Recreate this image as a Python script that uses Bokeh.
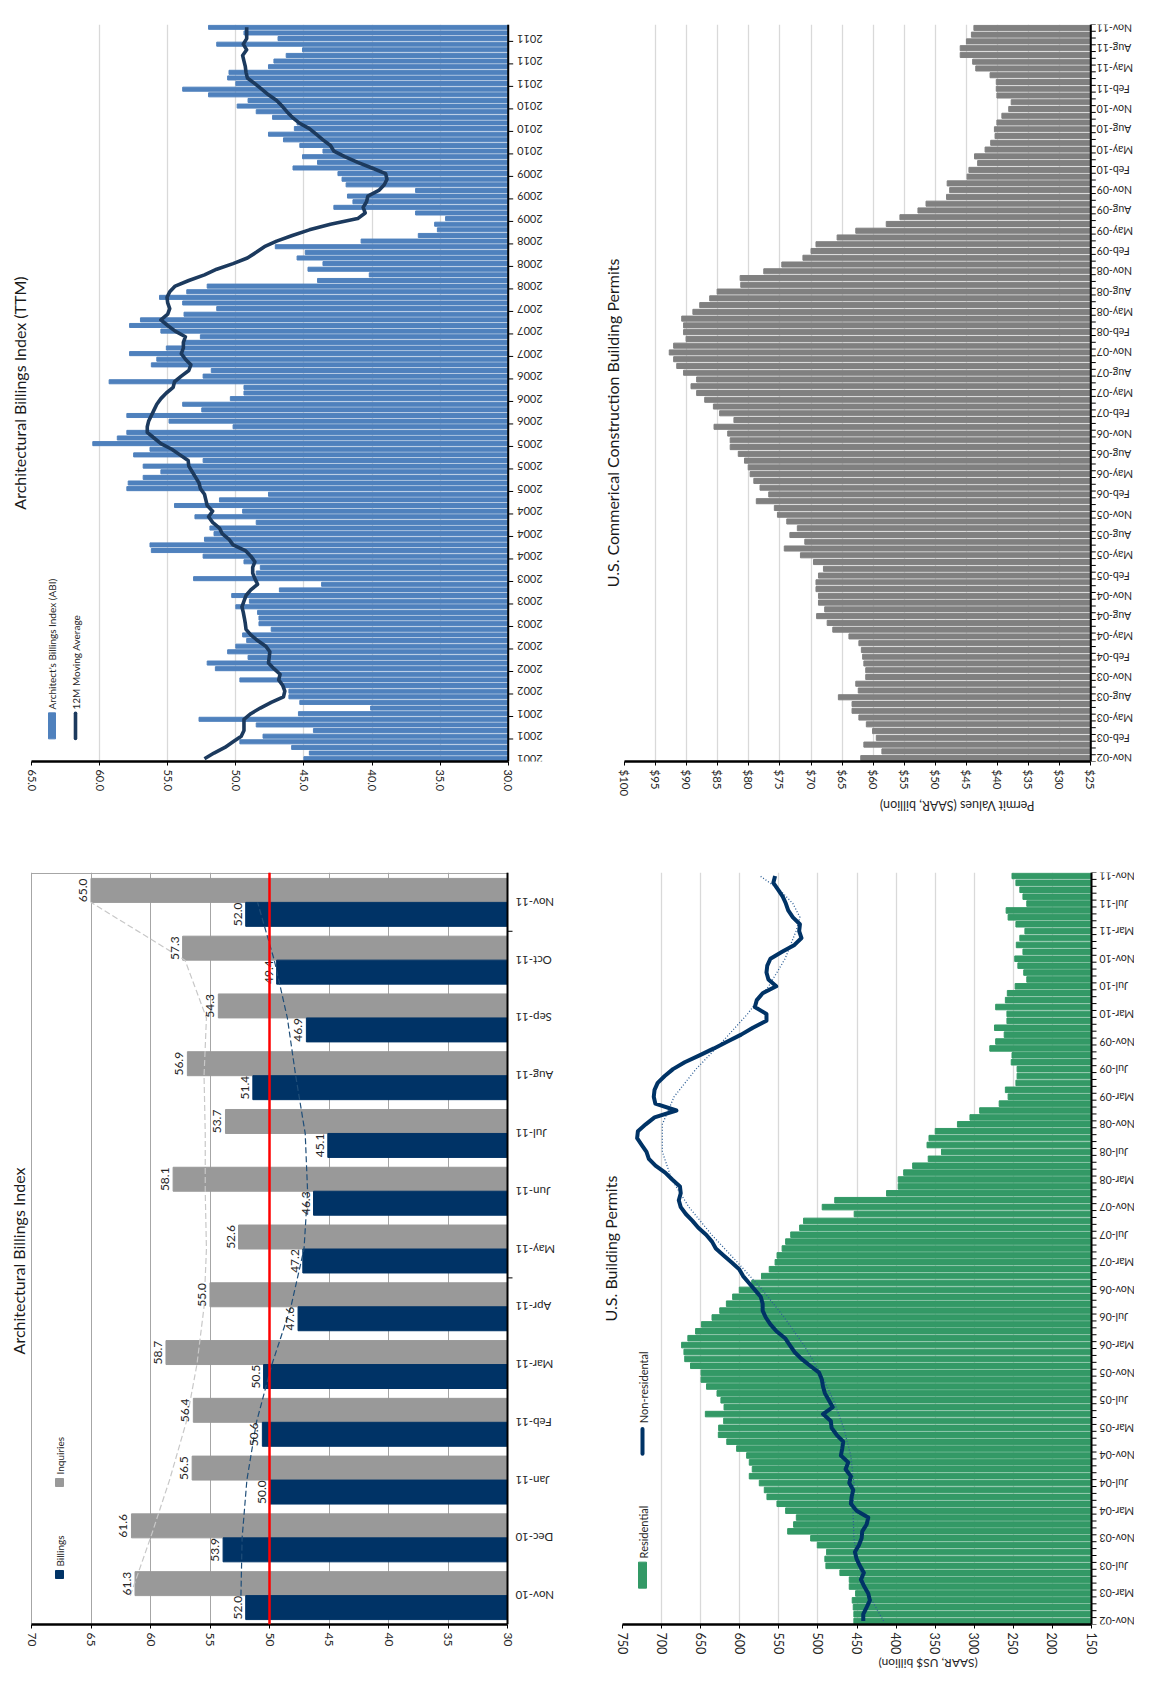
import math
from bokeh.plotting import figure
from bokeh.models import Range1d, FixedTicker, NumeralTickFormatter, Span
from bokeh.layouts import column, row
from bokeh.core.properties import value
from bokeh.embed import file_html
from bokeh.resources import INLINE

FONT = "Lato"

# ---------------- data ----------------
ttm_abi = [45.0, 44.6, 45.9, 49.7, 48.0, 44.3, 48.5, 52.7, 45.4, 40.1, 45.3, 46.1, 46.1, 46.55, 49.7, 46.8,
           51.5, 52.1, 49.1, 50.6, 50.0, 49.2, 49.5, 47.4, 48.3, 48.3, 48.4, 50.0, 49.0, 50.3, 46.8, 43.7,
           53.1, 48.5, 48.2, 49.4, 52.4, 56.2, 56.3, 52.3, 51.6, 51.9, 48.5, 53.0, 49.5, 54.5, 51.2, 47.6,
           58.0, 57.9, 56.8, 55.5, 56.8, 52.4, 57.5, 56.3, 60.5, 58.7, 58.0, 50.2, 54.9, 58.0, 52.5, 53.9,
           50.4, 49.4, 49.4, 59.3, 52.4, 51.8, 56.2, 55.8, 57.8, 55.1, 53.8, 52.6, 55.5, 57.8, 57.0, 53.8,
           51.4, 53.9, 55.6, 53.6, 52.1, 44.0, 40.2, 44.7, 43.6, 45.5, 44.9, 47.1, 40.8, 36.6, 35.2, 35.4,
           34.6, 36.8, 42.8, 41.4, 41.8, 36.8, 41.9, 42.2, 42.5, 45.8, 44.0, 45.1, 43.6, 45.3, 46.5, 47.6,
           45.7, 45.5, 47.3, 48.5, 49.9, 49.1, 52.0, 53.9, 50.0, 50.6, 50.5, 47.6, 47.2, 46.3, 45.1, 51.4,
           46.9, 49.4, 52.0]
ttm_ma = [52.3, 51.6, 50.8, 50.2, 49.6, 49.4, 49.4, 49.4, 48.9, 48.2, 47.4, 46.5, 46.4, 46.55, 46.85, 46.75,
          47.2, 47.6, 47.55, 47.5, 47.8, 48.4, 48.9, 49.25, 49.3, 49.37, 49.45, 49.55, 49.4, 49.25, 48.9, 48.4,
          48.6, 48.76, 48.76, 48.6, 48.9, 49.3, 50.2, 50.5, 51.0, 51.2, 51.7, 52.0, 51.7, 52.1, 52.2, 52.3,
          52.6, 52.7, 52.95, 53.2, 53.45, 53.5, 54.1, 54.7, 55.5, 56.0, 56.5, 56.5, 56.4, 56.2, 56.0, 55.8,
          55.5, 55.1, 54.6, 54.5, 54.0, 53.45, 53.3, 53.7, 54.0, 53.85, 53.85, 53.7, 54.45, 55.0, 55.5, 55.0,
          54.85, 55.0, 55.05, 54.85, 54.45, 53.45, 52.3, 51.4, 50.2, 49.15, 48.5, 47.9, 47.0, 45.85, 44.6, 43.05,
          41.05, 40.5, 40.65, 40.4, 40.3, 39.5, 39.1, 38.9, 39.0, 40.0, 41.05, 42.0, 42.8, 43.05, 43.6, 44.1,
          44.6, 45.35, 45.85, 46.25, 46.6, 47.0, 47.6, 48.1, 48.6, 49.15, 49.25, 49.3, 49.4, 49.5, 49.2, 49.45,
          49.2, 49.2, 49.2]
ttm_tick_labels = ["2001", "2001", "2001", "2002", "2002", "2002", "2003", "2003", "2003",
                   "2004", "2004", "2004", "2005", "2005", "2005", "2006", "2006", "2006",
                   "2007", "2007", "2007", "2008", "2008", "2008", "2009", "2009", "2009",
                   "2010", "2010", "2010", "2011", "2011", "2011"]

abi_months = ["Nov-10", "Dec-10", "Jan-11", "Feb-11", "Mar-11", "Apr-11", "May-11",
              "Jun-11", "Jul-11", "Aug-11", "Sep-11", "Oct-11", "Nov-11"]
abi_billings = [52.0, 53.9, 50.0, 50.6, 50.5, 47.6, 47.2, 46.3, 45.1, 51.4, 46.9, 49.4, 52.0]
abi_inquiries = [61.3, 61.6, 56.5, 56.4, 58.7, 55.0, 52.6, 58.1, 53.7, 56.9, 54.3, 57.3, 65.0]
abi_billings_trend = [52.4, 52.3, 51.9, 51.1, 49.8, 48.2, 47.1, 46.8, 47.0, 47.8, 48.5, 49.6, 51.0]
abi_inquiries_trend = [61.7, 60.0, 58.4, 57.0, 56.1, 55.5, 55.3, 55.4, 55.4, 55.5, 55.3, 57.1, 65.0]

comm_permits = [62.0, 58.6, 61.5, 59.5, 60.1, 61.1, 62.3, 63.4, 63.4, 65.6, 62.4, 62.8, 61.2, 61.2, 61.5,
                61.7, 61.9, 62.3, 63.9, 66.5, 67.4, 69.1, 67.8, 68.8, 68.8, 69.2, 69.2, 68.8, 68.0, 69.6,
                71.7, 74.3, 71.0, 73.4, 72.2, 73.9, 75.4, 75.9, 78.8, 76.8, 78.2, 79.2, 79.8, 80.1, 80.7,
                81.7, 83.0, 83.0, 83.4, 85.6, 82.4, 84.7, 85.7, 87.1, 88.4, 89.3, 88.4, 90.5, 91.6, 92.1,
                92.8, 92.1, 90.1, 90.5, 90.5, 90.8, 89.0, 87.9, 86.3, 85.1, 81.3, 81.4, 77.6, 74.7, 71.3,
                70.0, 69.2, 65.8, 62.8, 57.9, 55.7, 52.8, 51.5, 48.2, 47.7, 48.1, 44.9, 44.6, 43.2, 43.7,
                42.0, 41.1, 40.4, 40.5, 40.1, 39.3, 38.2, 37.8, 40.1, 40.2, 40.2, 41.2, 43.5, 44.0, 46.0,
                46.0, 45.0, 44.2, 43.8]
comm_tick_labels = ["Nov-02", "Feb-03", "May-03", "Aug-03", "Nov-03", "Feb-04", "May-04", "Aug-04",
                    "Nov-04", "Feb-05", "May-05", "Aug-05", "Nov-05", "Feb-06", "May-06", "Aug-06",
                    "Nov-06", "Feb-07", "May-07", "Aug-07", "Nov-07", "Feb-08", "May-08", "Aug-08",
                    "Nov-08", "Feb-09", "May-09", "Aug-09", "Nov-09", "Feb-10", "May-10", "Aug-10",
                    "Nov-10", "Feb-11", "May-11", "Aug-11", "Nov-11"]

bp_residential = [454.0, 454.0, 454.8, 456.1, 451.8, 459.9, 459.9, 471.9, 489.8, 491.1, 488.9, 500.8,
                  509.3, 538.7, 531.1, 527.6, 541.3, 552.4, 565.2, 568.6, 575.0, 587.8, 584.0, 587.8,
                  591.2, 604.0, 616.6, 627.4, 627.0, 620.6, 644.0, 620.1, 624.1, 629.1, 642.5, 649.5,
                  649.5, 663.0, 670.4, 671.4, 674.4, 666.4, 656.5, 649.0, 635.5, 625.6, 617.1, 609.1,
                  600.6, 584.7, 572.2, 562.3, 554.8, 552.3, 545.8, 541.3, 534.8, 523.4, 518.4, 453.6,
                  494.5, 478.5, 412.2, 397.3, 397.3, 390.3, 378.8, 358.9, 341.9, 360.4, 357.9, 349.9,
                  321.5, 305.5, 293.1, 268.1, 256.7, 260.2, 246.7, 245.2, 245.2, 252.7, 251.7, 280.1,
                  272.6, 261.7, 274.1, 258.2, 258.2, 272.6, 260.2, 257.7, 247.7, 232.8, 236.7, 244.2,
                  248.2, 237.7, 246.2, 241.7, 235.2, 246.7, 256.7, 259.2, 232.8, 237.7, 241.7, 246.7,
                  251.7]
bp_nonresidential = [442.0, 442.0, 437.7, 433.5, 435.6, 440.7, 445.0, 441.2, 446.3, 450.5, 452.7, 447.6,
                     444.1, 443.3, 437.7, 435.6, 450.5, 457.8, 456.9, 454.8, 459.9, 457.8, 464.6, 461.2,
                     470.6, 468.9, 467.6, 476.1, 482.5, 483.5, 493.5, 481.0, 486.0, 491.0, 493.5, 495.0,
                     498.5, 510.0, 521.0, 530.0, 536.0, 542.0, 553.0, 560.8, 566.7, 570.7, 570.7, 573.2,
                     580.7, 588.2, 595.7, 600.7, 610.6, 620.6, 630.6, 635.5, 643.0, 653.0, 660.5, 669.0,
                     675.5, 678.0, 675.5, 676.5, 686.4, 695.4, 707.8, 716.3, 719.3, 725.3, 731.3, 730.3,
                     720.3, 709.0, 681.0, 708.0, 710.0, 709.0, 705.0, 696.0, 685.4, 670.4, 651.5, 633.0,
                     615.6, 598.2, 583.2, 565.8, 565.8, 580.7, 578.2, 570.7, 553.3, 563.3, 565.8, 564.8,
                     560.8, 545.8, 530.0, 521.0, 524.0, 523.0, 532.0, 538.0, 541.0, 545.0, 551.0, 557.0,
                     554.8]
bp_trend_month = [0, 4, 8, 12, 16, 20, 24, 28, 32, 36, 40, 44, 48, 52, 56, 60, 64, 68, 72, 76, 80,
                  84, 88, 92, 96, 100, 102, 104, 106, 108]
bp_trend_value = [416, 436, 448, 454, 455, 454, 458, 467, 480, 497, 518, 543, 571, 603, 636, 665, 687,
                  699, 699, 684, 656, 622, 590, 563, 542, 528, 523, 532, 549, 574]
bp_tick_labels = ["Nov-02", "Mar-03", "Jul-03", "Nov-03", "Mar-04", "Jul-04", "Nov-04", "Mar-05",
                  "Jul-05", "Nov-05", "Mar-06", "Jul-06", "Nov-06", "Mar-07", "Jul-07", "Nov-07",
                  "Mar-08", "Jul-08", "Nov-08", "Mar-09", "Jul-09", "Nov-09", "Mar-10", "Jul-10",
                  "Nov-10", "Mar-11", "Jul-11", "Nov-11"]

TXT = "#262626"


class Geo:
    """Pixel geometry of one chart: value v_left at px x_left, v_axis at px x_axis."""

    def __init__(self, x_left, v_left, x_axis, v_axis, y_top, n_top, y_bot, n_bot):
        self.upx = (v_left - v_axis) / (x_axis - x_left)
        self.x_left, self.v_left = x_left, v_left
        self.vpy = (n_top - n_bot) / (y_bot - y_top)
        self.y_bot, self.n_bot = y_bot, n_bot

    def x(self, px):
        return self.v_left - (px - self.x_left) * self.upx

    def y(self, py):
        return self.n_bot + (self.y_bot - py) * self.vpy


def base_fig(w, h, xr, yr, l, t, b, title, align="center", offset=0):
    p = figure(width=w, height=h, x_range=xr, y_range=yr, output_backend="svg",
               toolbar_location=None, x_axis_location="below", y_axis_location=None,
               min_border_left=l, min_border_right=0, min_border_top=t, min_border_bottom=b,
               title=title, title_location="left")
    p.outline_line_color = None
    p.background_fill_color = "white"
    p.border_fill_color = "white"
    for g in p.grid:
        if g.dimension == 1:
            g.visible = False
    p.xgrid.grid_line_color = "#d9d9d9"
    p.xgrid.grid_line_width = 1.3
    p.title.text_font = FONT
    p.title.text_font_size = "16px"
    p.title.text_font_style = "normal"
    p.title.text_color = "#1a1a1a"
    p.title.align = align
    p.title.offset = offset
    p.title.standoff = 6
    return p


def value_axis(ax, ticks, fmt, size):
    ax.ticker = FixedTicker(ticks=ticks)
    ax.formatter = NumeralTickFormatter(format=fmt)
    ax.bounds = (min(ticks), max(ticks))
    ax.major_label_orientation = "vertical"
    ax.major_tick_out = 4
    ax.major_tick_in = 0
    ax.minor_tick_out = 0
    ax.minor_tick_in = 0
    ax.axis_line_color = "black"
    ax.axis_line_width = 2.5
    ax.major_tick_line_color = "black"
    ax.major_label_text_font = FONT
    ax.major_label_text_font_size = size
    ax.major_label_text_color = TXT
    ax.major_label_standoff = 4


def cat_axis(p, g, v_axis, pos, labels, minor, size, gap):
    # category axis line, outward ticks and upside-down labels right of the axis
    p.add_layout(Span(location=v_axis, dimension="height", line_color="black", line_width=2))
    tick_end = v_axis - 5 * g.upx
    p.segment(x0=[v_axis] * len(minor), x1=[tick_end] * len(minor), y0=minor, y1=minor,
              line_color="black", line_width=1)
    p.text(x=[v_axis] * len(pos), y=list(pos), text=list(labels), angle=math.pi, text_align="right",
           text_baseline="middle", x_offset=gap, text_font=value(FONT), text_font_size=size,
           text_color=TXT)


def upside_down_axis_label(ax, text, size):
    ax.axis_label = text
    ax.axis_label_text_font = FONT
    ax.axis_label_text_font_size = size
    ax.axis_label_text_font_style = "normal"
    ax.axis_label_text_color = TXT
    ax.axis_label_standoff = 6
    try:
        ax.axis_label_orientation = math.pi
    except Exception:
        pass


# ---------------- TTM chart ----------------
n_ttm = len(ttm_abi)
ttm_idx = list(range(n_ttm))
g_t = Geo(39, 65, 515.7, 30, 8, n_ttm - 0.5, 773, -0.5)
f_ttm = base_fig(567, 837, Range1d(65, g_t.x(575)), Range1d(-0.5, n_ttm - 0.5), 31, 0, 72,
                 "Architectural Billings Index (TTM)")
f_ttm.hbar(y=ttm_idx, left=30, right=ttm_abi, height=0.72, color="#4f81bd")
f_ttm.line(x=ttm_ma, y=ttm_idx, line_width=3.6, line_color="#1c3a5e", line_join="round")
value_axis(f_ttm.xaxis[0], [65, 60, 55, 50, 45, 40, 35, 30], "0.0", "11px")
cat_axis(f_ttm, g_t, 30, list(range(0, n_ttm, 4)), ttm_tick_labels,
         [k - 0.5 for k in range(4, n_ttm, 4)], "11px", 9)

f_ttm.rect(x=[g_t.x(59.5)], y=[g_t.y(736)], width=7, height=26, width_units="screen",
           height_units="screen", color="#4f81bd")
f_ttm.segment(x0=[g_t.x(83)], y0=[g_t.y(723)], x1=[g_t.x(83)], y1=[g_t.y(749)], line_width=3.6,
              line_color="#1c3a5e", line_cap="round")
f_ttm.text(x=[g_t.x(59.5), g_t.x(83.5)], y=[g_t.y(719), g_t.y(719)],
           text=["Architect's Billings Index (ABI)", "12M Moving Average"], angle=math.pi / 2,
           text_align="left", text_baseline="middle", text_font=value(FONT), text_font_size="10px",
           text_color=TXT)

# ---------------- ABI chart ----------------
n_abi = len(abi_months)
abi_idx = list(range(n_abi))
g_a = Geo(39, 70, 515, 30, 881, n_abi - 0.5, 1632, -0.5)
f_abi = base_fig(567, 844, Range1d(g_a.x(38), g_a.x(575)), Range1d(-0.5, g_a.y(880)), 30, 35, 57,
                 "Architectural Billings Index", align="right", offset=295)
f_abi.xgrid.grid_line_color = "#a6a6a6"
f_abi.xgrid.grid_line_width = 1
f_abi.segment(x0=[70], x1=[30], y0=[n_abi - 0.5], y1=[n_abi - 0.5], line_color="#a6a6a6", line_width=1)
bw = 0.415
y_bill = [i - bw / 2 for i in abi_idx]
y_inq = [i + bw / 2 for i in abi_idx]
f_abi.hbar(y=y_inq, left=30, right=abi_inquiries, height=bw, color="#999999")
f_abi.hbar(y=y_bill, left=30, right=abi_billings, height=bw, color="#003366")
f_abi.line(x=abi_inquiries_trend, y=abi_idx, line_color="#c8c8c8", line_width=1.2, line_dash="6 3")
f_abi.line(x=abi_billings_trend, y=abi_idx, line_color="#1f4e79", line_width=1.2, line_dash="6 3")
f_abi.add_layout(Span(location=50, dimension="height", line_color="#ff0000", line_width=2.5))
f_abi.text(x=abi_inquiries, y=y_inq, text=["%.1f" % v for v in abi_inquiries], angle=math.pi / 2,
           text_align="center", text_baseline="bottom", x_offset=-4, text_font=value(FONT),
           text_font_size="12px", text_color=TXT)
f_abi.text(x=abi_billings, y=y_bill, text=["%.1f" % v for v in abi_billings], angle=math.pi / 2,
           text_align="center", text_baseline="bottom", x_offset=-4, text_font=value(FONT),
           text_font_size="12px", text_color=TXT)
value_axis(f_abi.xaxis[0], [70, 65, 60, 55, 50, 45, 40, 35, 30], "0", "12px")
cat_axis(f_abi, g_a, 30, abi_idx, abi_months, [5.5, 11.5], "11.5px", 8)

f_abi.rect(x=[g_a.x(67), g_a.x(67)], y=[g_a.y(1582), g_a.y(1490)], width=8, height=8,
           width_units="screen", height_units="screen", color=["#003366", "#999999"])
f_abi.text(x=[g_a.x(67.5), g_a.x(67.5)], y=[g_a.y(1574), g_a.y(1482)], text=["Billings", "Inquiries"],
           angle=math.pi / 2, text_align="left", text_baseline="middle", text_font=value(FONT),
           text_font_size="10px", text_color=TXT)

# ---------------- Commercial permits ----------------
n_c = len(comm_permits)
c_idx = list(range(n_c))
g_c = Geo(632.3, 100, 1098.3, 25, 32, n_c - 0.5, 769, -0.5)
f_c = base_fig(567, 837, Range1d(100, g_c.x(1142)), Range1d(-0.5, n_c - 0.5), 57, 24, 76,
               "U.S. Commerical Construction Building Permits", align="right", offset=234)
f_c.hbar(y=c_idx, left=25, right=comm_permits, height=0.75, color="#808080")
value_axis(f_c.xaxis[0], list(range(100, 24, -5)), "$0", "11.5px")
cat_axis(f_c, g_c, 25, list(range(0, n_c, 3)), comm_tick_labels, [k - 0.5 for k in range(0, n_c + 1)],
         "10.5px", 6)
upside_down_axis_label(f_c.xaxis[0], "Permit Values (SAAR, billion)", "12.5px")

# ---------------- U.S. building permits ----------------
n_b = len(bp_residential)
b_idx = list(range(n_b))
g_b = Geo(630, 750, 1099, 150, 878, n_b - 0.5, 1640, -0.5)
f_b = base_fig(567, 844, Range1d(750, g_b.x(1142)), Range1d(-0.5, n_b - 0.5), 55, 33, 49,
               "U.S. Building Permits")
f_b.hbar(y=b_idx, left=150, right=bp_residential, height=0.8, color="#339966")
f_b.line(x=bp_trend_value, y=bp_trend_month, line_color="#2e5f96", line_width=1.3, line_dash="1 2")
f_b.line(x=bp_nonresidential, y=b_idx, line_color="#003366", line_width=4, line_join="round")
value_axis(f_b.xaxis[0], list(range(750, 149, -50)), "0", "12.5px")
cat_axis(f_b, g_b, 150, list(range(0, n_b, 4)), bp_tick_labels, [k - 0.5 for k in range(0, n_b + 1)],
         "10.5px", 8)
upside_down_axis_label(f_b.xaxis[0], "(SAAR, US$ billion)", "12px")

f_b.rect(x=[g_b.x(650)], y=[g_b.y(1590)], width=8, height=26, width_units="screen",
         height_units="screen", color="#339966")
f_b.segment(x0=[g_b.x(650)], y0=[g_b.y(1442)], x1=[g_b.x(650)], y1=[g_b.y(1467)], line_width=4,
            line_color="#003366", line_cap="round")
f_b.text(x=[g_b.x(650.5), g_b.x(650.5)], y=[g_b.y(1573), g_b.y(1436)], text=["Residential", "Non-residental"],
         angle=math.pi / 2, text_align="left", text_baseline="middle", text_font=value(FONT),
         text_font_size="11px", text_color=TXT)

layout = column(row(f_ttm, f_c), row(f_abi, f_b))
open("out.html", "w").write(file_html(layout, INLINE))
